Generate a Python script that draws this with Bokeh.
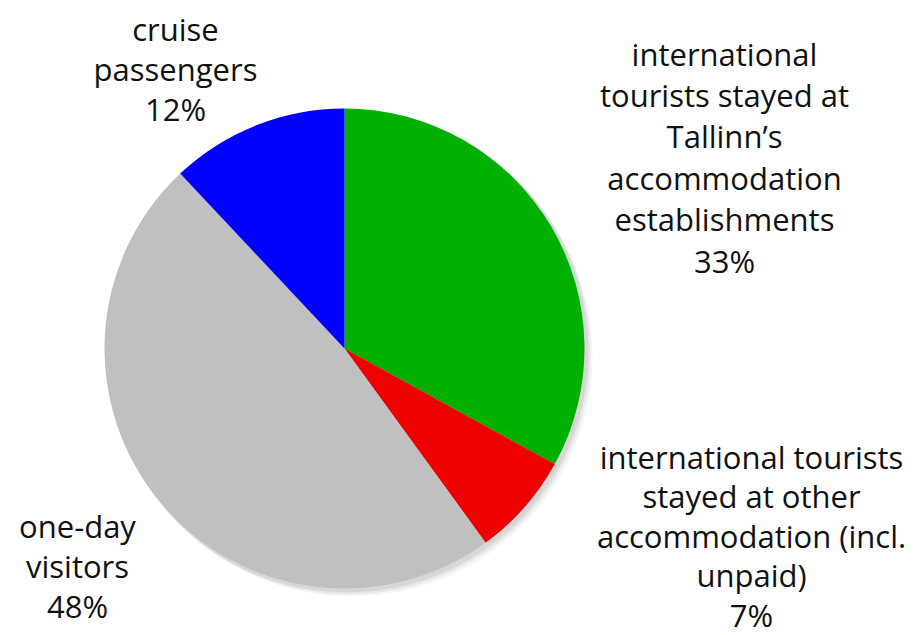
import numpy as np
from bokeh.plotting import figure
from bokeh.models import Range1d, ColumnDataSource
from bokeh.core.properties import value
from bokeh.embed import file_html
from bokeh.resources import INLINE

# Data
categories = [
    ["international", "tourists stayed at", "Tallinn\u2019s", "accommodation", "establishments"],
    ["international tourists", "stayed at other", "accommodation (incl.", "unpaid)"],
    ["one-day", "visitors"],
    ["cruise", "passengers"],
]
shares = [33, 7, 48, 12]
colors = ["#00b000", "#ee0000", "#c0c0c0", "#0000ff"]

# Layout (screen pixels, top-left origin)
W, H = 922, 635
cx, cy, r = 344, 348, 240
label_x = [724, 751, 77, 175]
label_top = [53, 456, 525, 28]
line_gap = [41.4, 39.5, 40, 40]

vals = np.array(shares, dtype=float)
frac = vals / vals.sum()
ends = np.pi / 2 - 2 * np.pi * np.cumsum(frac)
starts = np.concatenate([[np.pi / 2], ends[:-1]])

p = figure(width=W, height=H, output_backend="svg", toolbar_location=None,
           x_range=Range1d(0, W), y_range=Range1d(0, H), min_border=0)
p.axis.visible = False
p.grid.visible = False
p.outline_line_color = None
p.background_fill_color = "white"

py = H - cy
# soft shadow
for off, a in [(7, 0.04), (5, 0.05), (3, 0.07)]:
    p.circle(x=[cx + off], y=[py - off], radius=r + 1, fill_color="black",
             fill_alpha=a, line_color=None)

src = ColumnDataSource(dict(start=starts, end=ends, color=colors))
p.wedge(x=cx, y=py, radius=r, start_angle="start", end_angle="end",
        direction="clock", fill_color="color", line_color=None, source=src)

xs, ys, texts = [], [], []
for cat, s, lx, lt, g in zip(categories, shares, label_x, label_top, line_gap):
    lines = cat + [f"{s}%"]
    for i, t in enumerate(lines):
        xs.append(lx)
        ys.append(H - (lt + i * g))
        texts.append(t)

tsrc = ColumnDataSource(dict(x=xs, y=ys, text=texts))
p.text(x="x", y="y", text="text", source=tsrc, text_align="center",
       text_baseline="middle", text_font=value("Open Sans"),
       text_font_size="31px", text_color="#111111")

open("out.html", "w").write(file_html(p, INLINE))
